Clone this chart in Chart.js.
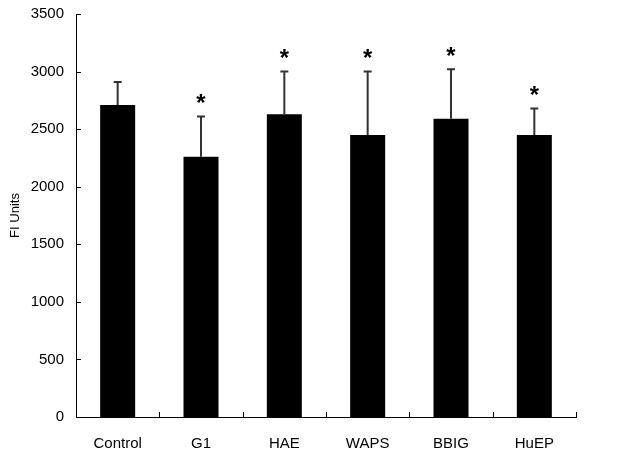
<!DOCTYPE html>
<html>
<head>
<meta charset="utf-8">
<script src="https://cdn.jsdelivr.net/npm/chart.js@4/dist/chart.umd.min.js"></script>
<style>
html,body{margin:0;padding:0;background:#fff;}
#wrap{width:629px;height:455px;position:relative;}
</style>
</head>
<body>
<div id="wrap"><canvas id="c" width="629" height="455"></canvas></div>
<script>
const categories = ["Control", "G1", "HAE", "WAPS", "BBIG", "HuEP"];
const means = [2710, 2260, 2630, 2450, 2590, 2450];
const errors = [200, 350, 370, 550, 430, 230];
const significant = [false, true, true, true, true, true];
const yTicks = [0, 500, 1000, 1500, 2000, 2500, 3000, 3500];

const FONT = "'Liberation Sans', Arial, sans-serif";

const extras = {
  id: 'extras',
  afterDatasetsDraw(chart) {
    const ctx = chart.ctx;
    const xs = chart.scales.x, ys = chart.scales.y;
    const area = chart.chartArea;
    ctx.save();
    ctx.strokeStyle = '#000';
    ctx.lineWidth = 1;
    yTicks.forEach(v => {
      const y = Math.round(ys.getPixelForValue(v)) + 0.5;
      ctx.beginPath();
      ctx.moveTo(area.left, y);
      ctx.lineTo(area.left + 5, y);
      ctx.stroke();
    });
    const step = xs.getPixelForValue(1) - xs.getPixelForValue(0);
    for (let i = 0; i < categories.length; i++) {
      const x = Math.round(xs.getPixelForValue(i) + step / 2) + 0.5;
      ctx.beginPath();
      ctx.moveTo(x, area.bottom);
      ctx.lineTo(x, area.bottom - 5);
      ctx.stroke();
    }
    ctx.strokeStyle = '#333';
    ctx.lineWidth = 2;
    means.forEach((m, i) => {
      const x = xs.getPixelForValue(i);
      const y0 = ys.getPixelForValue(m);
      const y1 = ys.getPixelForValue(m + errors[i]);
      ctx.beginPath();
      ctx.moveTo(x, y0);
      ctx.lineTo(x, y1);
      ctx.moveTo(x - 4, y1);
      ctx.lineTo(x + 4, y1);
      ctx.stroke();
    });
    ctx.fillStyle = '#000';
    ctx.font = 'bold 30px ' + FONT;
    let mt = ctx.measureText('*');
    const h30 = mt.actualBoundingBoxAscent + mt.actualBoundingBoxDescent;
    const fs = 30 * 9.5 / h30;
    ctx.font = 'bold ' + fs.toFixed(1) + 'px ' + FONT;
    ctx.textAlign = 'center';
    ctx.textBaseline = 'alphabetic';
    mt = ctx.measureText('*');
    const asc = mt.actualBoundingBoxAscent, desc = mt.actualBoundingBoxDescent;
    means.forEach((m, i) => {
      if (!significant[i]) return;
      const x = xs.getPixelForValue(i);
      const cy = ys.getPixelForValue(m + errors[i]) - 18;
      const base = cy - (desc - asc) / 2;
      ctx.fillText('*', x, base);
    });
    ctx.restore();
  }
};

new Chart(document.getElementById('c'), {
  type: 'bar',
  data: {
    labels: categories,
    datasets: [{
      data: means,
      backgroundColor: '#000',
      borderWidth: 0,
      categoryPercentage: 1.0,
      barPercentage: 0.42
    }]
  },
  options: {
    responsive: false,
    animation: false,
    events: [],
    layout: { padding: { top: 14, right: 53, left: 0, bottom: 0 } },
    plugins: { legend: { display: false }, tooltip: { enabled: false } },
    scales: {
      x: {
        grid: { display: false, drawTicks: false },
        border: { display: true, color: '#000', width: 1 },
        ticks: { color: '#000', font: { family: FONT, size: 15 }, padding: 18, maxRotation: 0 },
        afterFit(s) { s.height = 38; s.paddingLeft = 0; s.paddingRight = 0; }
      },
      y: {
        min: 0, max: 3500,
        afterBuildTicks(s) { s.ticks = yTicks.map(v => ({ value: v })); },
        grid: { display: false, drawTicks: false },
        border: { display: true, color: '#000', width: 1 },
        ticks: { color: '#000', font: { family: FONT, size: 15 }, padding: 12, callback: v => String(v) },
        title: { display: true, text: 'FI Units', color: '#000', font: { family: FONT, size: 13 }, padding: { top: 8, bottom: 0 } },
        afterFit(s) { s.width = 76; s.paddingTop = 0; s.paddingBottom = 0; }
      }
    }
  },
  plugins: [extras]
});
</script>
</body>
</html>
